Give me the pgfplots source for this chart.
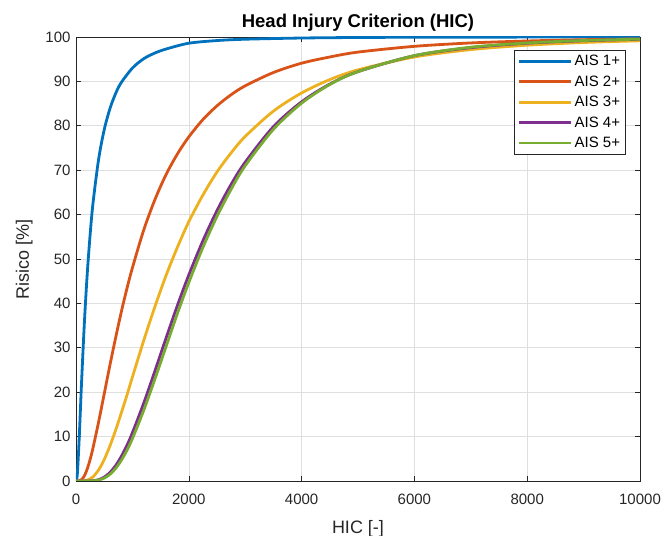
\documentclass[border=0pt]{standalone}
\usepackage{pgfplots}
\pgfplotsset{compat=1.18}
\usepackage{fontspec}
\setmainfont{Liberation Sans}
\definecolor{c1}{rgb}{0,0.447,0.741}
\definecolor{c2}{rgb}{0.85,0.325,0.098}
\definecolor{c3}{rgb}{0.929,0.694,0.125}
\definecolor{c4}{rgb}{0.494,0.184,0.556}
\definecolor{c5}{rgb}{0.466,0.674,0.188}
\definecolor{axc}{rgb}{0.15,0.15,0.15}
\definecolor{gridc}{rgb}{0.875,0.875,0.875}
\begin{document}
\begin{tikzpicture}
\begin{axis}[
  scale only axis, width=564pt, height=444pt,
  xmin=0, xmax=10000, ymin=0, ymax=100,
  xtick={0,2000,4000,6000,8000,10000},
  ytick={0,10,...,100},
  scaled x ticks=false,
  /pgf/number format/1000 sep={},
  /pgf/number format/assume math mode=true,
  tick label style={font=\fontsize{15}{17}\selectfont, text=axc},
  xticklabel style={yshift=-9pt},
  yticklabel style={xshift=-2pt},
  xlabel={HIC [-]}, ylabel={Risico [\%]},
  label style={font=\fontsize{18}{20}\selectfont, text=axc},
  title={\textbf{Head Injury Criterion (HIC)}},
  title style={font=\fontsize{18.5}{20}\selectfont, yshift=-4pt},
  xlabel style={yshift=-9pt},
  ylabel style={yshift=6pt},
  axis line style={axc, line width=0.6pt},
  tick align=inside, major tick length=5pt,
  tick style={axc, line width=0.6pt},
  grid=major, major grid style={gridc, line width=0.6pt},
  legend style={at={(0.974,0.971)}, anchor=north east, draw=axc, line width=0.6pt, fill=white,
    font=\fontsize{15}{17}\selectfont, row sep=4.5pt, inner xsep=3pt, inner ysep=3pt},
  legend cell align=left,
  legend image code/.code={\draw[#1, line width=2.8pt] (0pt,0pt) -- (52pt,0pt);},
  every axis plot/.append style={line width=2.8pt, smooth},
]
\coordinate (sw) at (rel axis cs:0,0);
\coordinate (ne) at (rel axis cs:1,1);
\addplot[c1] coordinates {(0,0) (10,0.14) (25,1.8) (50,7.7) (75,15.1) (100,22.6) (150,36.0) (200,46.8) (250,55.4) (300,62.4) (400,72.4) (500,79.1) (600,83.8) (700,87.2) (800,89.7) (1000,93.0) (1200,95.1) (1400,96.4) (1600,97.3) (2000,98.6) (2500,99.2) (3000,99.5) (4000,99.77) (5000,99.89) (6000,99.94) (8000,99.98) (10000,100)};
\addlegendentry{AIS 1+}
\addplot[c2] coordinates {(0,0) (50,0.02) (100,0.32) (150,1.2) (200,2.74) (250,4.83) (300,7.37) (400,13.24) (500,19.6) (600,26.0) (700,32.1) (800,37.9) (900,43.2) (1000,48.0) (1200,56.5) (1400,63.4) (1600,69.1) (1800,73.7) (2000,77.5) (2250,81.4) (2500,84.5) (2750,87.0) (3000,89.0) (3500,92.0) (4000,94.1) (4500,95.5) (5000,96.6) (6000,97.9) (7000,98.66) (8000,99.1) (9000,99.39) (10000,99.57)};
\addlegendentry{AIS 2+}
\addplot[c3] coordinates {(0,0) (100,0.01) (200,0.19) (300,0.93) (400,2.47) (500,4.83) (600,7.84) (700,11.35) (800,15.2) (900,19.2) (1000,23.4) (1200,31.6) (1400,39.3) (1600,46.4) (1800,52.7) (2000,58.4) (2250,64.4) (2500,69.6) (2750,73.9) (3000,77.6) (3500,83.3) (4000,87.4) (4500,90.4) (5000,92.6) (6000,95.5) (7000,97.16) (8000,98.15) (9000,98.76) (10000,99.15)};
\addlegendentry{AIS 3+}
\addplot[c4] coordinates {(0,0) (200,0.0) (300,0.06) (400,0.30) (500,0.87) (600,1.89) (700,3.42) (800,5.46) (900,7.94) (1000,10.86) (1200,17.5) (1400,24.8) (1600,32.3) (1800,39.6) (2000,46.4) (2250,54.1) (2500,60.9) (2750,66.8) (3000,71.8) (3500,79.8) (4000,85.4) (4500,89.4) (5000,92.2) (6000,95.8) (7000,97.6) (8000,98.6) (9000,99.16) (10000,99.49)};
\addlegendentry{AIS 4+}
\addplot[c5] coordinates {(0,0) (200,0.0) (300,0.04) (400,0.21) (500,0.65) (600,1.48) (700,2.78) (800,4.59) (900,6.84) (1000,9.54) (1200,15.9) (1400,23.0) (1600,30.4) (1800,37.8) (2000,44.7) (2250,52.6) (2500,59.6) (2750,65.7) (3000,71.0) (3500,79.2) (4000,85.1) (4500,89.3) (5000,92.2) (6000,95.8) (7000,97.7) (8000,98.66) (9000,99.21) (10000,99.52)};
\addlegendentry{AIS 5+}
\end{axis}
\pgfresetboundingbox
\path (sw) ++(-76pt,-55pt) rectangle ([shift={(25pt,37pt)}]ne);
\end{tikzpicture}
\end{document}
